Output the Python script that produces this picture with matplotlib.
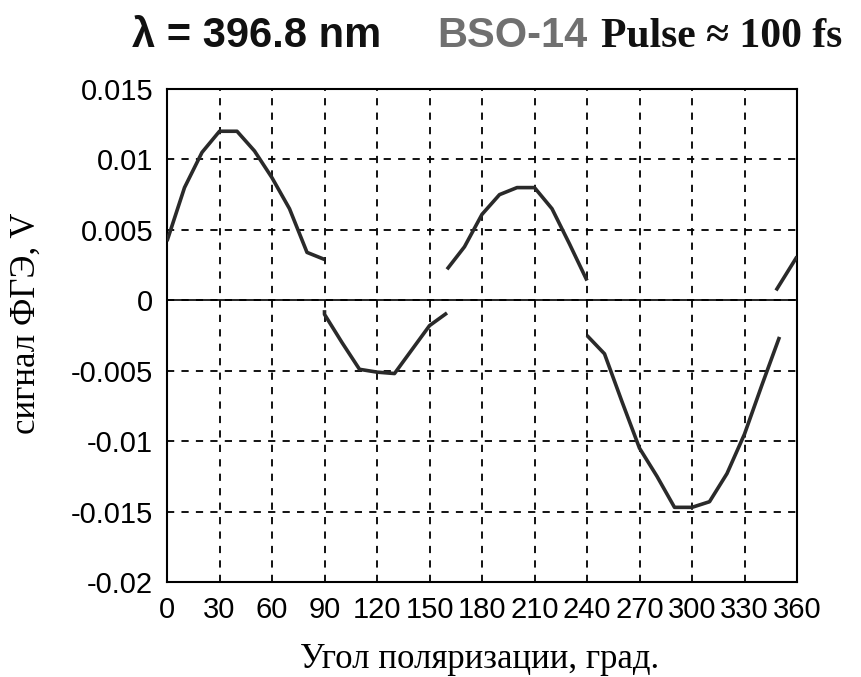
import matplotlib
matplotlib.use("Agg")
import matplotlib.pyplot as plt
import numpy as np

# Data: angle in degrees, signal in V
seg1_x = [0, 10, 20, 30, 40, 50, 60, 70, 80, 90]
seg1_y = [0.0042, 0.0080, 0.0105, 0.0120, 0.0120, 0.0106, 0.0087, 0.0065, 0.0034, 0.0029]

seg2_x = [90, 90, 100, 110, 120, 130, 140, 150, 160]
seg2_y = [-0.0007, -0.0010, -0.0030, -0.0049, -0.0051, -0.0052, -0.0035, -0.0018, -0.0009]

seg3_x = [160, 170, 180, 190, 200, 210, 220, 230, 240]
seg3_y = [0.0022, 0.0038, 0.0061, 0.0075, 0.0080, 0.0080, 0.0065, 0.0040, 0.0014]

seg4_x = [240, 250, 260, 270, 280, 290, 300, 310, 320, 330, 340, 350]
seg4_y = [-0.0025, -0.0038, -0.0072, -0.0105, -0.0125, -0.0147, -0.0147, -0.0143, -0.0123, -0.0095, -0.0060, -0.0026]

seg5_x = [348, 360]
seg5_y = [0.0007, 0.0031]

x_ticks = [0, 30, 60, 90, 120, 150, 180, 210, 240, 270, 300, 330, 360]
y_ticks = [-0.02, -0.015, -0.01, -0.005, 0, 0.005, 0.01, 0.015]
y_tick_labels = ["-0.02", "-0.015", "-0.01", "-0.005", "0", "0.005", "0.01", "0.015"]

fig = plt.figure(figsize=(8.61, 6.77), dpi=100)
ax = fig.add_axes([167/861, 1-582/677, (797-167)/861, (582-89)/677])

for xs, ys in [(seg1_x, seg1_y), (seg2_x, seg2_y), (seg3_x, seg3_y), (seg4_x, seg4_y), (seg5_x, seg5_y)]:
    ax.plot(xs, ys, color="#2a2a2a", lw=2.6, solid_capstyle="butt", zorder=3)

ax.axhline(0, color="black", lw=1.2, zorder=2)
ax.set_xlim(0, 360)
ax.set_ylim(-0.02, 0.015)
ax.set_xticks(x_ticks)
ax.set_xticklabels([str(v) for v in x_ticks])
ax.set_yticks(y_ticks)
ax.set_yticklabels(y_tick_labels)
ax.grid(True, color="black", linestyle=(0, (4, 4)), lw=1.3)
ax.tick_params(length=0, pad=10, labelsize=21)
for lab in ax.get_xticklabels() + ax.get_yticklabels():
    lab.set_family("Liberation Sans")
for s in ax.spines.values():
    s.set_linewidth(1.5)

fig.text(480/861, 1-660/677, "Угол поляризации, град.", family="Liberation Serif",
         fontsize=25, ha="center", va="center")
fig.text(26/861, 1-323/677, "сигнал ФГЭ, V", family="Liberation Serif",
         fontsize=25, ha="center", va="center", rotation=90)

ty = 1-47/677
fig.text(132/861, ty, "λ = 396.8 nm", family="Liberation Sans", fontweight="bold",
         fontsize=30, ha="left", va="baseline", color="#111111")
fig.text(587/861, ty, "BSO-14", family="Liberation Sans", fontweight="bold",
         fontsize=30, ha="right", va="baseline", color="#707070")
fig.text(601/861, ty, "Pulse ≈ 100 fs", family="Liberation Serif", fontweight="bold",
         fontsize=30, ha="left", va="baseline", color="#111111")

fig.savefig("out.png", dpi=100)
